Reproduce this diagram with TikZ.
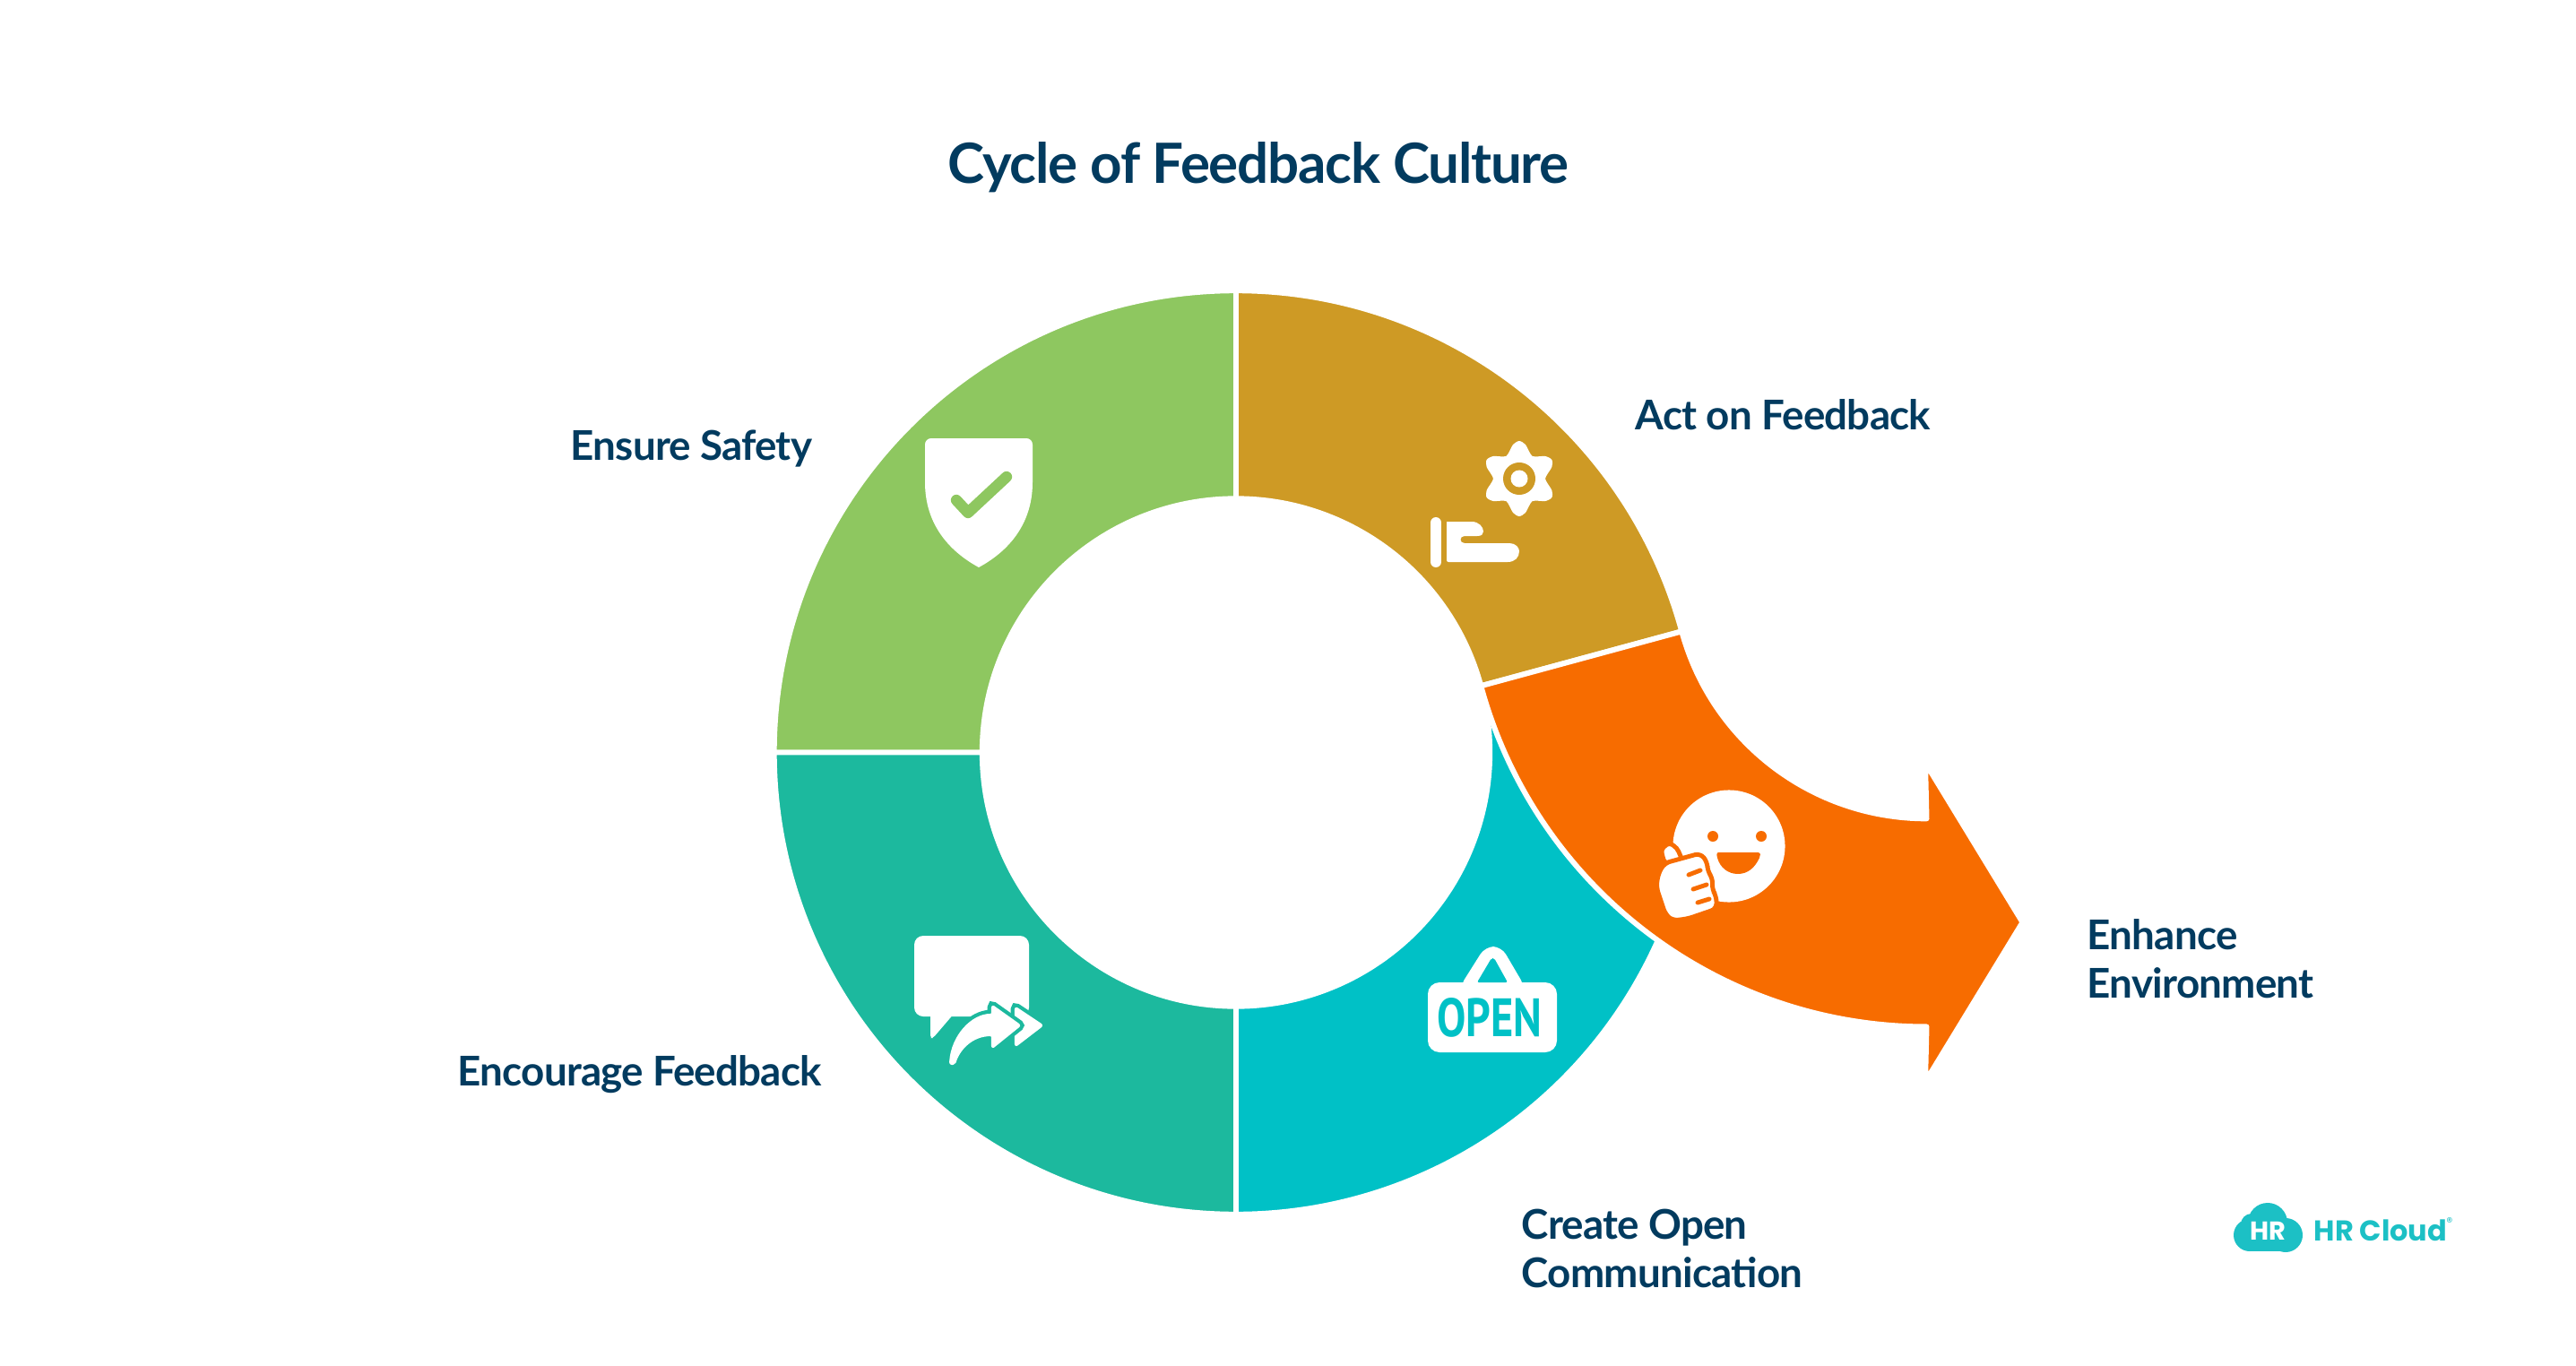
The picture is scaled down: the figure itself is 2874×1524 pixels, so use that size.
\documentclass[tikz,border=0pt]{standalone}
\usepackage{fontspec}
\setmainfont{Lato}
\newfontfamily\titlefont{Lato}[LetterSpace=-2.0]
\newfontfamily\labelfont{Lato}[LetterSpace=-1.7]
\newfontfamily\logofont{Poppins}
\newfontfamily\signfont{PT Sans}
\usetikzlibrary{positioning, calc}
\definecolor{ringGreen}{HTML}{8EC760}
\definecolor{ringTeal}{HTML}{1CB99E}
\definecolor{ringCyan}{HTML}{00C1C6}
\definecolor{ringGold}{HTML}{CE9A25}
\definecolor{ringOrange}{HTML}{F76C00}
\definecolor{navyText}{HTML}{023B5F}
\definecolor{logoCyan}{HTML}{1CC0C5}

\begin{document}
\begin{tikzpicture}[
    x=0.01cm, y=-0.01cm, % 坐标单位 = 参考图像素
    sector/.style={draw=white, line width=1.7pt, line join=round}, % 圆环扇形
    label/.style={anchor=west, align=left, inner sep=0pt, text=navyText, font=\labelfont\bfseries\fontsize{13}{15.4}\selectfont},
    halo/.style={preaction={draw=ringTeal, line width=3pt}, fill=white, draw=white, line width=0.6pt, line join=round}
]
    \useasboundingbox (0,0) rectangle (2874,1524);
    \def\rout{5.15cm}
    \def\rin{2.83cm}

    % 1. 圆环中心
    \coordinate (cen) at (1379,839.5);
    \coordinate (cen2) at ([shift={(15.2:7.98cm)}]cen);

    % 2. 四个扇形
    \foreach \a/\b/\col in {90/180/ringGreen, 180/270/ringTeal, 270/375.2/ringCyan, 90/15.2/ringGold} {
        \draw[sector, fill=\col] ([shift={(\a:\rout)}]cen) arc[start angle=\a, end angle=\b, radius=\rout]
            -- ([shift={(\b:\rin)}]cen) arc[start angle=\b, end angle=\a, radius=\rin] -- cycle;
    }

    % 3. 橙色箭头
    \draw[sector, fill=ringOrange] ([shift={(195.2:\rout)}]cen2) arc[start angle=195.2, end angle=270, radius=\rout]
        -- (2148,1207) -- (2256.5,1029) -- (2148,851) -- ([shift={(270:\rin)}]cen2)
        arc[start angle=270, end angle=195.2, radius=\rin] -- cycle;

    % 4. 标题与标签
    \node[text=navyText, inner sep=0pt, font=\titlefont\bfseries\fontsize{17.6}{20}\selectfont] (title) at (1404,187) {Cycle of Feedback Culture};
    \node[label] (actLabel) at (1824,463) {Act on Feedback};
    \node[label] (safeLabel) at (636,501) {Ensure Safety};
    \node[label] (encLabel) at (510,1199) {Encourage Feedback};
    \node[label] (openLabel) at (1697,1393) {Create Open\\Communication};
    \node[label] (envLabel) at (2328,1070) {Enhance\\Environment};

    % 5. 花与手
    \fill[white] plot[smooth cycle, samples=36, domain=0:350] ([shift={(\x:{0.355cm+0.065cm*cos(6*(\x-90))})}]1695,534);
    \fill[ringGold] (1695,534) circle (0.18cm);
    \fill[white] (1695,534) circle (0.095cm);
    \draw[white, line width=3.4pt, line cap=round] (1602,583) -- (1602,627);
    \fill[white] (1614,582) -- (1642,582) .. controls (1650,582) and (1655,588) .. (1655,593)
        .. controls (1655,596) and (1653,598) .. (1648,598) -- (1634,598) .. controls (1628,598) and (1628,606) .. (1634,606)
        -- (1684,606) .. controls (1691,606) and (1695,611) .. (1695,615) .. controls (1695,622) and (1690,627) .. (1682,627)
        -- (1616,627) .. controls (1615,627) and (1614,626) .. (1614,625) -- cycle;

    % 6. 盾牌
    \fill[white] (1039,489) -- (1145,489) .. controls (1149,489) and (1152,492) .. (1152,496) -- (1152,538)
        .. controls (1152,585) and (1125,615) .. (1092,633) .. controls (1059,615) and (1032,585) .. (1032,538)
        -- (1032,496) .. controls (1032,492) and (1035,489) .. (1039,489) -- cycle;
    \draw[ringGreen, line width=3.5pt, line cap=round, line join=round] (1067,558) -- (1080,572) -- (1123,532);

    % 7. 对话框与箭头
    \fill[white, rounded corners=0.1cm] (1020,1044) rectangle (1148,1134);
    \fill[white, rounded corners=0.03cm] (1038,1125) -- (1038,1158) -- (1041,1158) -- (1065,1130) -- cycle;
    \path[halo, rounded corners=0.02cm] (1133,1124) -- (1163,1144) -- (1133,1167) -- cycle;
    \path[halo, rounded corners=0.02cm] (1107,1122) -- (1138,1144) -- (1107,1169) -- (1107,1155)
        .. controls (1085,1155) and (1070,1170) .. (1065,1187) -- (1060,1187)
        .. controls (1062,1155) and (1085,1132) .. (1107,1132) -- cycle;

    % 8. OPEN 挂牌
    \fill[white, rounded corners=0.13cm] (1593,1096) rectangle (1737,1174);
    \fill[white, rounded corners=0.1cm] (1628,1102) -- (1657,1056) -- (1675,1056) -- (1702,1102) -- cycle;
    \fill[ringCyan, rounded corners=0.02cm] (1648,1096) -- (1664,1069) -- (1667,1069) -- (1682,1096) -- cycle;
    \node[text=ringCyan, inner sep=0pt, font=\signfont\bfseries] (openSign) at (1662,1135.5) {\resizebox{1.17cm}{0.43cm}{OPEN}};

    % 9. 笑脸与拇指
    \fill[white] (1929,944) circle (0.625cm);
    \fill[ringOrange] (1911,933) circle (0.06cm) (1965,933) circle (0.06cm);
    \fill[ringOrange] (1918,951) -- (1961,951) .. controls (1965,951) and (1964,955) .. (1963,957)
        .. controls (1958,968) and (1950,975) .. (1939,975) .. controls (1928,975) and (1919,968) .. (1916,957)
        .. controls (1915,953) and (1915,951) .. (1918,951) -- cycle;
    \draw[ringOrange, line width=1.4pt, fill=white, rounded corners=0.04cm] (1857,963) -- (1853,948) -- (1862,940) -- (1871,946) -- (1878,962) -- cycle;
    \draw[ringOrange, line width=1.4pt, fill=white, rounded corners=0.06cm] (1857,963) -- (1897,952) -- (1905,962) -- (1905,972) -- (1911,980) -- (1910,992) -- (1915,1000) -- (1915,1014) -- (1883,1025) -- (1866,1027) -- (1858,1020) -- (1848,990) -- (1850,975) -- cycle;
    \draw[ringOrange, line width=1.4pt, line cap=round] (1884,976) -- (1897,971) (1889,992) -- (1904,987) (1894,1007) -- (1907,1003);

    % 10. 标志
    \fill[logoCyan] (2510,1378) circle (0.18cm) (2550,1378) circle (0.19cm) (2530,1364) circle (0.22cm) (2512,1366) circle (0.12cm);
    \fill[logoCyan] (2510,1378) rectangle (2550,1396);
    \node[text=white, inner sep=0pt, font=\logofont\bfseries\fontsize{8.2}{10}\selectfont] (logoMark) at (2530,1373) {HR};
    \node[text=logoCyan, anchor=west, inner sep=0pt, font=\logofont\bfseries\fontsize{9.1}{12}\selectfont] (logoText) at (2581,1373) {HR Cloud};
    \node[text=logoCyan, inner sep=0pt, font=\logofont\fontsize{4}{5}\selectfont] (logoReg) at (2733,1364) {®};
\end{tikzpicture}
\end{document}
